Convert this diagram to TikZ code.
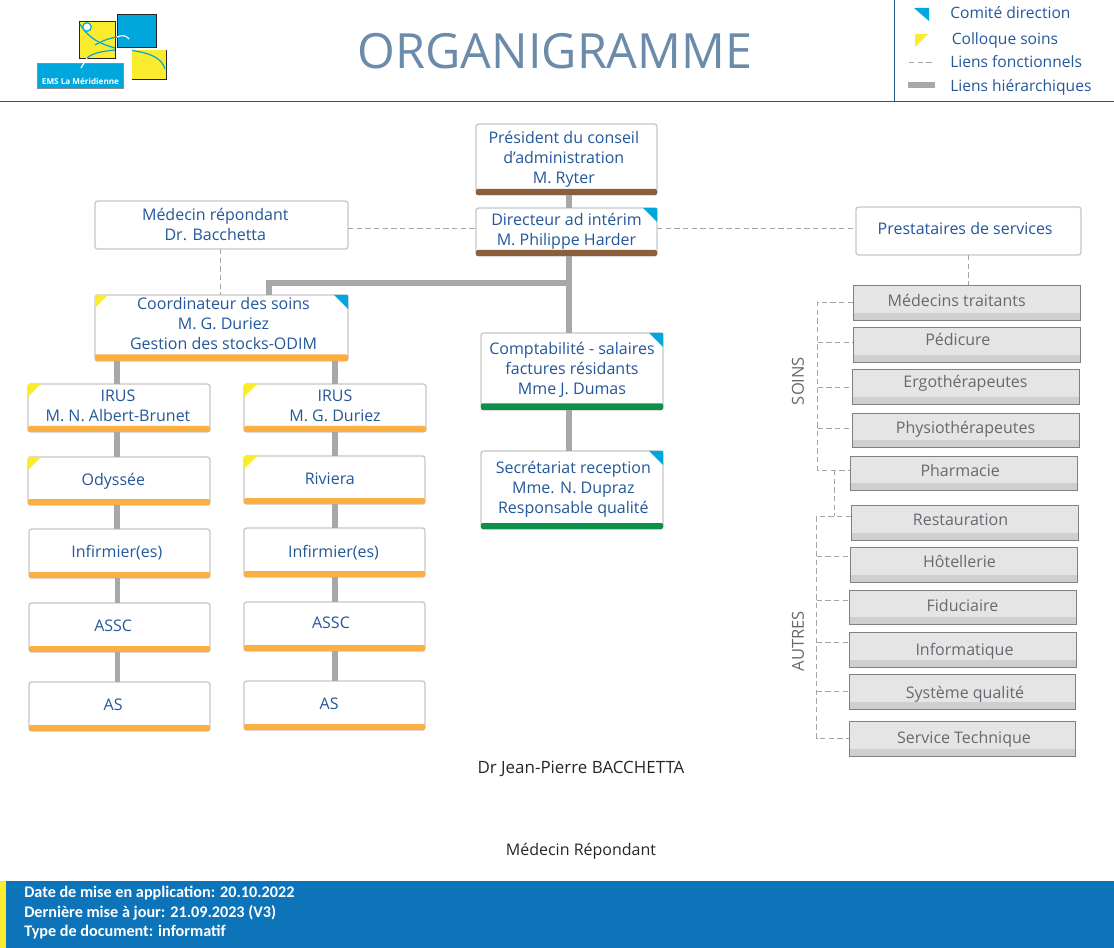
\documentclass[tikz,border=0pt]{standalone}
\usepackage{fontspec}
\setmainfont{Open Sans}
\newfontfamily\footfont{Carlito}
\definecolor{txtblue}{HTML}{24579A}
\definecolor{txtgrey}{HTML}{666A70}
\definecolor{hier}{HTML}{A8A8AA}
\definecolor{dashc}{HTML}{A5A5A5}
\definecolor{orangeb}{HTML}{FBAE42}
\definecolor{brownb}{HTML}{8B5E3C}
\definecolor{greenb}{HTML}{0F9048}
\definecolor{cblue}{HTML}{00A7DC}
\definecolor{cyellow}{HTML}{FBEB2D}
\definecolor{navy}{HTML}{1D5A8A}
\definecolor{titlec}{HTML}{6A8BAA}
\definecolor{footb}{HTML}{0E74BA}
\tikzset{
  x=0.75pt,y=-0.75pt,
  whitebox/.style={draw=black!22,line width=1pt,rounded corners=2pt,fill=white,inner sep=0pt,outer sep=0pt,text=txtblue},
  greybox/.style={draw=black!50,line width=.7pt,fill=black!10,inner sep=0pt,outer sep=0pt,text=txtgrey,
    path picture={\fill[black!19] ([yshift=5.3pt]path picture bounding box.south west) rectangle (path picture bounding box.south east);}},
  hierline/.style={draw=hier,line width=3.8pt},
  funcline/.style={draw=dashc,line width=.6pt,dash pattern=on 4pt off 2.5pt},
  legendtxt/.style={text=txtblue,anchor=west,inner sep=0pt,font=\fontsize{11.7}{14}\selectfont},
  plain/.style={inner sep=0pt,text=black!85},
  foottxt/.style={text=white,anchor=base west,inner sep=0pt,font=\footfont\fontsize{12.15}{15}\selectfont\bfseries},
}
% name, style, x0,y0,x1,y1, text dx, text dy
\newcommand\orgbox[9]{%
  \node[#2,minimum width={(#5-#3)*0.75pt},minimum height={(#6-#4)*0.75pt}] (#1) at ({(#3+#5)/2},{(#4+#6)/2})
    {\raisebox{#8pt}[0pt][0pt]{\makebox[0pt]{\hspace*{#7pt}\begin{tabular}{@{}c@{}}#9\end{tabular}}}};}
\newcommand\orgbar[3]{\fill[#2,rounded corners=1pt] (#1.south west) rectangle ([yshift=#3pt]#1.south east);}
\newcommand\cornerB[1]{\fill[cblue] (#1.north east) -- ++(-14,0) -- ++(14,14) -- cycle;}
\newcommand\cornerY[1]{\fill[cyellow] (#1.north west) -- ++(13,0) -- ++(-13,13) -- cycle;}
\begin{document}
\begin{tikzpicture}
\useasboundingbox (0,0) rectangle (1114,948);
\fontsize{12}{15}\selectfont
% header
\coordinate (hl) at (0,101); \coordinate (hr) at (1114,101);
\coordinate (vt) at (894,0); \coordinate (vb) at (894,101);
\draw[navy,line width=.7pt] (hl) -- (hr) (vt) -- (vb);
\node[text=titlec,inner sep=0pt,font=\fontsize{36.4}{40}\selectfont] (title) at (555,51) {ORGANIGRAMME};
% logo
\fill[cyellow,draw=black!85,line width=.7pt] (79,21) rectangle (115,58);
\fill[cblue,draw=black!85,line width=.7pt] (117,14.5) rectangle (156,47.5);
\fill[cyellow] (132,50) rectangle (166,79.5);
\draw[black!85,line width=.7pt] (132,79.5) -- (166,79.5) -- (166,50);
\fill[cblue,draw=black!45,line width=.5pt] (37,63) rectangle (123,88);
\draw[cblue,line width=.9pt] (80,24) .. controls (88,38) and (100,44) .. (115,48);
\draw[cblue,line width=.9pt] (95,45) .. controls (102,41) and (110,38) .. (117,37);
\draw[white,line width=.9pt] (117,37) .. controls (122,35) and (126,35) .. (129,39);
\draw[cblue,line width=.9pt] (87,58) .. controls (92,53) and (104,51) .. (115,50);
\draw[white,line width=.9pt] (87,58) -- (81,68);
\draw[cblue,line width=.9pt] (132,50.5) .. controls (150,53) and (162,58) .. (165,69);
\draw[cblue,fill=white,line width=.9pt] (87,27) circle (3.2pt);
\node[text=white,inner sep=0pt,font=\fontsize{6.1}{7}\selectfont\bfseries] (logotxt) at (80.5,81) {EMS La Méridienne};
% legend
\fill[cblue] (914,8) -- (929,8) -- (929,21) -- cycle;
\fill[cyellow] (915,34) -- (928,34) -- (915,47) -- cycle;
\coordinate (lf1) at (909,62); \coordinate (lf2) at (934,62);
\coordinate (lh1) at (908,85); \coordinate (lh2) at (935,85);
\draw[funcline] (lf1) -- (lf2);
\draw[hierline] (lh1) -- (lh2);
\node[legendtxt] (l1) at (950,13) {Comité direction};
\node[legendtxt] (l2) at (951.5,40.5) {Colloque soins};
\node[legendtxt] (l3) at (950,62) {Liens fonctionnels};
\node[legendtxt] (l4) at (950,87) {Liens hiérarchiques};
% white boxes
\orgbox{pres}{whitebox}{476}{124}{657}{195}{-4}{-3}{Président du conseil\\d'administration\\M. Ryter}
\orgbox{dir}{whitebox}{476}{208}{657}{256}{0}{-2.4}{Directeur ad intérim\\M. Philippe Harder}
\orgbox{med}{whitebox}{95}{201}{348}{249}{-9.3}{-4.5}{Médecin répondant\\Dr. Bacchetta}
\orgbox{prest}{whitebox}{856}{207}{1081}{255}{-5}{-2.75}{Prestataires de services}
\orgbox{coord}{whitebox}{95}{295}{348}{361}{3}{-1.4}{Coordinateur des soins\\M. G. Duriez\\Gestion des stocks-ODIM}
\orgbox{compta}{whitebox}{481}{333}{663}{410}{0}{-2.6}{Comptabilité - salaires\\factures résidants\\Mme J. Dumas}
\orgbox{secr}{whitebox}{481}{451}{663}{529}{2}{-2.25}{Secrétariat reception\\Mme. N. Dupraz\\Responsable qualité}
\orgbox{irusa}{whitebox}{28}{384}{210}{432}{-1.5}{-3}{IRUS\\M. N. Albert-Brunet}
\orgbox{irusb}{whitebox}{244}{384}{426}{432}{0}{-3}{IRUS\\M. G. Duriez}
\orgbox{odys}{whitebox}{28}{457}{210}{505}{-8.5}{-3}{Odyssée}
\orgbox{rivi}{whitebox}{244}{456}{425}{504}{-7}{-3}{Riviera}
\orgbox{infa}{whitebox}{29}{529}{210}{578}{-4}{-3}{Infirmier(es)}
\orgbox{infb}{whitebox}{244}{528}{425}{577}{-1.5}{-3.75}{Infirmier(es)}
\orgbox{assca}{whitebox}{29}{603}{210}{652}{-9.5}{-3}{ASSC}
\orgbox{asscb}{whitebox}{244}{602}{425}{651}{-5.3}{-1.25}{ASSC}
\orgbox{asa}{whitebox}{29}{682}{210}{731}{-9.5}{-2.75}{AS}
\orgbox{asb}{whitebox}{244}{681}{425}{730}{-8}{-2.75}{AS}
\orgbar{pres}{brownb}{4.5}\orgbar{dir}{brownb}{4.5}
\orgbar{compta}{greenb}{5}\orgbar{secr}{greenb}{4.5}
\orgbar{coord}{orangeb}{5}
\orgbar{irusa}{orangeb}{4.5}\orgbar{irusb}{orangeb}{4.5}
\orgbar{odys}{orangeb}{4.5}\orgbar{rivi}{orangeb}{4.5}
\orgbar{infa}{orangeb}{4.5}\orgbar{infb}{orangeb}{4.5}
\orgbar{assca}{orangeb}{4.5}\orgbar{asscb}{orangeb}{4.5}
\orgbar{asa}{orangeb}{4.5}\orgbar{asb}{orangeb}{4.5}
\cornerB{dir}\cornerB{coord}\cornerB{compta}\cornerB{secr}
\cornerY{coord}\cornerY{irusa}\cornerY{irusb}\cornerY{odys}\cornerY{rivi}
% grey boxes
\orgbox{g1}{greybox}{853}{285}{1080}{320}{-14.7}{-2.75}{Médecins traitants}
\orgbox{g2}{greybox}{853}{327}{1080}{362}{-13}{-1}{Pédicure}
\orgbox{g3}{greybox}{852}{369}{1079}{404}{0}{-0.5}{Ergothérapeutes}
\orgbox{g4}{greybox}{852}{413}{1079}{447}{0}{-3}{Physiothérapeutes}
\orgbox{g5}{greybox}{850}{456}{1077}{490}{-5}{-2.5}{Pharmacie}
\orgbox{g6}{greybox}{851}{505}{1078}{540}{-6}{-2.25}{Restauration}
\orgbox{g7}{greybox}{850}{547}{1077}{582}{-6}{-2.25}{Hôtellerie}
\orgbox{g8}{greybox}{849}{590}{1076}{624}{0}{-3.25}{Fiduciaire}
\orgbox{g9}{greybox}{849}{632}{1076}{667}{3}{-4.25}{Informatique}
\orgbox{g10}{greybox}{849}{674}{1075}{709}{4.5}{-5}{Système qualité}
\orgbox{g11}{greybox}{849}{721}{1075}{756}{3}{-3.5}{Service Technique}
% hierarchical links
\coordinate (cj) at (569,283);
\coordinate (cc) at (269,283);
\coordinate (cb) at (cc |- coord.north);
\draw[hierline] (pres.south -| cj) -- (dir.north -| cj);
\draw[hierline] (dir.south -| cj) -- (compta.north -| cj);
\draw[hierline] (compta.south -| cj) -- (secr.north -| cj);
\draw[hierline] (cj) -- (cc) -- (cb);
\draw[hierline] ([xshift=-1.5pt]irusa.north) -- ([xshift=-1.5pt]irusa.north |- coord.south);
\draw[hierline] (irusb.north -| 335,0) -- (coord.south -| 335,0);
\foreach \a/\b in {irusa/odys,odys/infa,infa/assca,assca/asa}
  \draw[hierline] ([xshift=-1.5pt]\a.south) -- ([xshift=-1.5pt]\a.south |- \b.north);
\foreach \a/\b in {irusb/rivi,rivi/infb,infb/asscb,asscb/asb}
  \draw[hierline] (\a.south -| 335,0) -- (\b.north -| 335,0);
% functional links
\draw[funcline] (med.east |- 0,228) -- (dir.west |- 0,228);
\draw[funcline] (dir.east |- 0,228) -- (prest.west |- 0,228);
\draw[funcline] (med.south -| 220.5,0) -- (coord.north -| 220.5,0);
\draw[funcline] (prest.south -| 968,0) -- (g1.north -| 968,0);
\coordinate (st) at (817.5,302); \coordinate (sb) at (817.5,470);
\draw[funcline] (g1.west |- st) -- (st) -- (sb) -- (g5.west |- sb);
\foreach \g/\y in {g2/342,g3/387,g4/428.5}
  \draw[funcline] (817.5,\y) -- (\g.west |- 0,\y);
\coordinate (pj) at (834.5,470); \coordinate (rj) at (834.5,516);
\draw[funcline] (pj) -- (rj);
\coordinate (at) at (816.5,516); \coordinate (ab) at (816.5,738);
\draw[funcline] (g6.west |- at) -- (at) -- (ab) -- (g11.west |- ab);
\foreach \g/\y in {g7/556.5,g8/600,g9/642,g10/691}
  \draw[funcline] (816.5,\y) -- (\g.west |- 0,\y);
\node[rotate=90,text=txtgrey,inner sep=0pt,font=\fontsize{12.4}{15}\selectfont] (soins) at (798,381) {SOINS};
\node[rotate=90,text=txtgrey,inner sep=0pt,font=\fontsize{12.4}{15}\selectfont] (autres) at (798,641) {AUTRES};
% signature
\node[plain,font=\fontsize{12.7}{15}\selectfont] (sig1) at (581,769) {Dr Jean-Pierre BACCHETTA};
\node[plain,font=\fontsize{12}{15}\selectfont] (sig2) at (581,851) {Médecin Répondant};
% footer
\fill[footb] (6,881) rectangle (1114,948);
\fill[cyellow] (0,881) rectangle (6,948);
\node[foottxt] (f1) at (24,897) {Date de mise en application: 20.10.2022};
\node[foottxt] (f2) at (24,917) {Dernière mise à jour: 21.09.2023 (V3)};
\node[foottxt] (f3) at (24,936) {Type de document: informatif};
\end{tikzpicture}
\end{document}
